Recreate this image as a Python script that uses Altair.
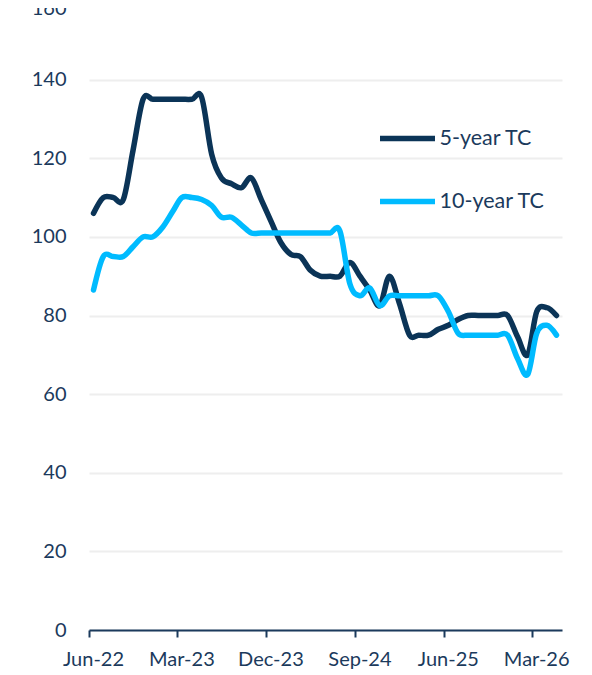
import altair as alt
import pandas as pd

# Monthly observations, Jun-22 .. May-26 (plotted mid-month)
months = pd.date_range("2022-06-01", periods=48, freq="MS") + pd.Timedelta(days=14)

five_year = [106, 110, 110, 109.5, 122, 135, 135, 135, 135, 135, 135, 135.5,
             121, 115, 113.5, 112.5, 115, 109.5, 104, 98.5, 95.5, 95, 91.5, 90,
             90, 90, 93.5, 90, 86.5, 82.5, 90, 83, 75, 75, 75, 76.5, 77.5, 79,
             80, 80, 80, 80, 80, 74.5, 70, 81, 82, 80]

ten_year = [86.5, 95, 95, 95, 97.5, 100, 100, 102.5, 106.5, 110, 110, 109.5,
            108, 105, 105, 103, 101, 101, 101, 101, 101, 101, 101, 101,
            101, 101.5, 88, 85, 87, 82.5, 85, 85, 85, 85, 85, 85, 81, 75.5,
            75, 75, 75, 75, 75, 69, 65, 75.5, 77.5, 75]

series_names = ["5-year TC", "10-year TC"]
colors = ["#0B3457", "#00BBFF"]
tick_dates = ["2022-06-01", "2023-03-01", "2023-12-01", "2024-09-01", "2025-06-01", "2026-03-01"]

df = pd.concat([
    pd.DataFrame({"date": months, "value": five_year, "series": series_names[0]}),
    pd.DataFrame({"date": months, "value": ten_year, "series": series_names[1]}),
])
df["date"] = df["date"].dt.strftime("%Y-%m-%d")

text_color = "#1B3A5C"
font = "Lato"

tick_vals = [alt.DateTime(year=int(d[:4]), month=int(d[5:7]), date=1, utc=True) for d in tick_dates]

chart = alt.Chart(df).mark_line(strokeWidth=5.5, interpolate="cardinal", strokeCap="round").encode(
    x=alt.X("date:T",
            scale=alt.Scale(type="utc",
                            domain=[alt.DateTime(year=2022, month=6, date=1, utc=True),
                                    alt.DateTime(year=2026, month=6, date=1, utc=True)]),
            axis=alt.Axis(values=tick_vals, labelExpr="utcFormat(datum.value, '%b-%y')", title=None,
                          grid=False, domainColor=text_color, domainWidth=2,
                          tickColor=text_color, tickWidth=2, tickSize=7,
                          labelFontSize=20, labelColor=text_color, labelFont=font,
                          labelPadding=12, labelOffset=4, labelFlush=False)),
    y=alt.Y("value:Q",
            scale=alt.Scale(domain=[0, 160], nice=False),
            axis=alt.Axis(values=list(range(0, 161, 20)), title=None, domain=False, ticks=False,
                          gridColor="#EEEEEE", gridWidth=2,
                          labelFontSize=20, labelColor=text_color, labelFont=font,
                          labelPadding=23,
                          labelOffset=alt.ExprRef(expr="datum.value == 160 ? 7 : 0"))),
    color=alt.Color("series:N",
                    scale=alt.Scale(domain=series_names, range=colors),
                    sort=series_names,
                    legend=alt.Legend(title=None, orient="none", legendX=288, legendY=107,
                                      symbolType="stroke", symbolSize=3025, symbolStrokeWidth=5.5,
                                      labelFontSize=21.5, labelColor=text_color, labelFont=font,
                                      labelOffset=1.5, rowPadding=21, padding=0)),
).properties(
    width=473,
    height=629,
    autosize=alt.AutoSizeParams(type="none"),
    padding={"left": 81, "top": -7, "right": 22, "bottom": 44},
).configure_view(stroke=None)

chart.save("out.html", embed_options={"renderer": "svg", "actions": False})
